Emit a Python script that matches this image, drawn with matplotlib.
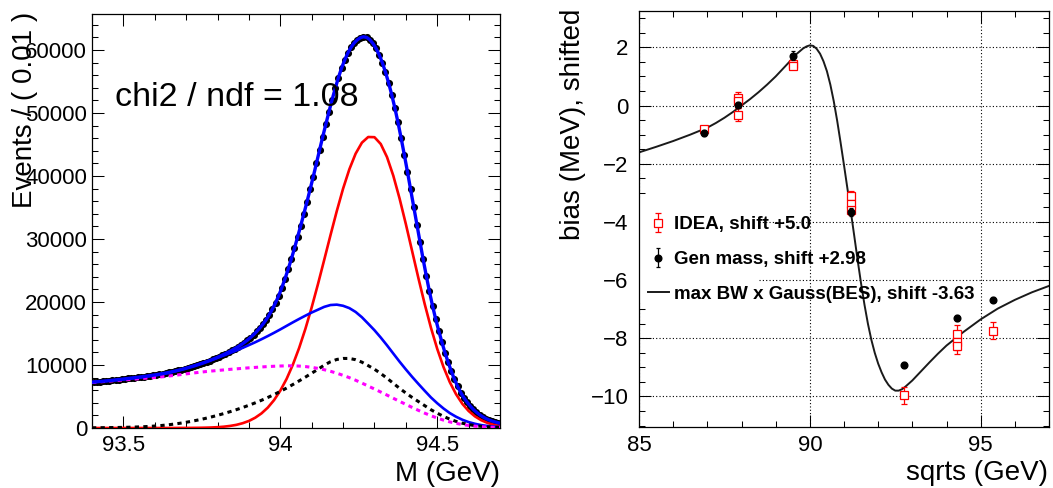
import numpy as np
import matplotlib
matplotlib.use("Agg")
import matplotlib.pyplot as plt
from matplotlib.ticker import MultipleLocator, FixedLocator, FuncFormatter
from matplotlib.patches import Rectangle

plt.rcParams['font.family'] = ['Liberation Sans', 'DejaVu Sans']

# ---------------- left panel: mass fit ----------------
bin_centers = np.round(93.405 + 0.01 * np.arange(130), 3)
events = [
    7300, 7340, 7380, 7420, 7470, 7520, 7570, 7620, 7680, 7740,
    7800, 7860, 7920, 7980, 8040, 8100, 8170, 8240, 8310, 8380,
    8460, 8540, 8630, 8720, 8820, 8930, 9040, 9160, 9280, 9410,
    9550, 9690, 9840, 10000, 10160, 10330, 10510, 10700, 10900, 11110,
    11330, 11560, 11800, 12050, 12310, 12590, 12890, 13210, 13560, 13940,
    14360, 14820, 15330, 15890, 16500, 17200, 18000, 18900, 19900, 21000,
    22300, 23700, 25200, 26800, 28500, 30300, 32100, 34000, 35900, 37900,
    39900, 42000, 44100, 46200, 48200, 50200, 52100, 53900, 55600, 57100,
    58400, 59500, 60400, 61100, 61600, 61950, 62100, 62000, 61650, 61050,
    60250, 59250, 58000, 56500, 54800, 52900, 50800, 48500, 46000, 43400,
    40700, 37900, 35100, 32300, 29500, 26800, 24200, 21700, 19400, 17300,
    15400, 13600, 11900, 10400, 9000, 7700, 6600, 5600, 4800, 4100,
    3500, 2950, 2500, 2100, 1780, 1500, 1280, 1100, 950, 820,
]

m_grid = np.round(93.40 + 0.02 * np.arange(66), 2)
core_peak = [
    0, 0, 0, 0, 0, 0, 0, 0, 0, 0,
    0, 0, 0, 0, 10, 10, 20, 30, 50, 80,
    130, 210, 330, 500, 760, 1120, 1630, 2320, 3230, 4420,
    5930, 7790, 10050, 12710, 15750, 19150, 22840, 26710, 30630, 34440,
    37990, 41070, 43550, 45290, 46190, 46160, 45080, 43000, 40050, 36430,
    32370, 28080, 23790, 19690, 15910, 12560, 9680, 7280, 5360, 3840,
    2700, 1850, 1240, 810, 510, 320,
]
tail_a = [
    30, 40, 50, 65, 80, 100, 125, 155, 195, 245,
    310, 390, 490, 610, 750, 910, 1090, 1290, 1510, 1750,
    2010, 2290, 2590, 2910, 3250, 3610, 3990, 4400, 4840, 5310,
    5810, 6340, 6900, 7480, 8080, 8700, 9320, 9980, 10520, 10880,
    11040, 11040, 10840, 10450, 9900, 9330, 8650, 7900, 7100, 6300,
    5550, 4850, 4200, 3550, 2900, 2350, 1850, 1400, 1050, 760,
    540, 380, 260, 180, 120, 80,
]
tail_b = [
    7220, 7300, 7380, 7460, 7540, 7620, 7700, 7780, 7860, 7940,
    8020, 8110, 8220, 8340, 8460, 8590, 8710, 8830, 8940, 9040,
    9130, 9220, 9310, 9390, 9470, 9550, 9620, 9690, 9750, 9800,
    9840, 9870, 9870, 9830, 9750, 9630, 9460, 9250, 9000, 8700,
    8360, 7990, 7580, 7130, 6660, 6190, 5710, 5220, 4720, 4230,
    3750, 3270, 2800, 2360, 1950, 1580, 1250, 970, 740, 550,
    400, 290, 200, 140, 100, 70,
]
tail_sum = np.add(tail_a, tail_b)

# ---------------- right panel: bias vs sqrt(s) ----------------
idea_x = [86.9, 87.9, 87.9, 87.9, 89.5, 89.5, 91.2, 91.2, 91.2, 92.75, 94.3, 94.3, 94.3, 95.35]
idea_y = [-0.82, 0.26, 0.14, -0.31, 1.42, 1.36, -3.12, -3.38, -3.58, -9.96, -7.85, -8.12, -8.25, -7.74]
idea_err = [0.12, 0.22, 0.22, 0.22, 0.12, 0.12, 0.18, 0.18, 0.18, 0.30, 0.30, 0.30, 0.30, 0.30]

gen_x = [86.9, 87.9, 89.5, 91.2, 92.75, 94.3, 95.35]
gen_y = [-0.93, 0.02, 1.72, -3.66, -8.93, -7.30, -6.67]
gen_err = [0.10, 0.10, 0.15, 0.15, 0.10, 0.10, 0.10]

bw_x = [85.0, 85.5, 86.0, 86.5, 87.0, 87.25, 87.5, 87.75, 88.0, 88.25, 88.5, 88.75,
        89.0, 89.2, 89.4, 89.6, 89.8, 89.9, 90.0, 90.1, 90.2, 90.3, 90.4, 90.5,
        90.6, 90.7, 90.8, 90.9, 91.0, 91.1, 91.2, 91.3, 91.4, 91.5, 91.6, 91.7,
        91.8, 91.9, 92.0, 92.1, 92.2, 92.3, 92.4, 92.5, 92.6, 92.7, 92.8, 93.0,
        93.25, 93.5, 93.75, 94.0, 94.5, 95.0, 95.5, 96.0, 96.5, 97.0]
bw_y = [-1.61, -1.42, -1.22, -1.00, -0.76, -0.60, -0.42, -0.22, 0.00, 0.22, 0.46, 0.72,
        1.00, 1.25, 1.50, 1.76, 1.96, 2.03, 2.07, 2.05, 1.95, 1.78, 1.52, 1.18,
        0.72, 0.15, -0.52, -1.27, -2.05, -2.85, -3.65, -4.48, -5.32, -6.12, -6.85, -7.50,
        -8.05, -8.50, -8.87, -9.17, -9.42, -9.60, -9.73, -9.80, -9.80, -9.75, -9.66, -9.45,
        -9.14, -8.83, -8.53, -8.25, -7.78, -7.35, -6.98, -6.68, -6.42, -6.20]

W, H = 1053, 488
fig = plt.figure(figsize=(W / 100, H / 100), dpi=100)
fig.patch.set_facecolor('white')

axL = fig.add_axes([92 / W, 1 - 428 / H, 408 / W, 414 / H])
axR = fig.add_axes([639 / W, 1 - 427 / H, 410 / W, 416 / H])

BLUE = '#0000ff'
RED = '#ff0000'
MAGENTA = '#ff00ff'


def root_style(ax, xpad, ypad):
    for s in ax.spines.values():
        s.set_linewidth(0.9)
        s.set_color('black')
    ax.tick_params(which='both', direction='in', top=True, right=True,
                   width=0.75, colors='black', labelsize=16)
    ax.tick_params(which='major', length=8.5)
    ax.tick_params(which='minor', length=4.3)
    ax.tick_params(axis='x', which='major', pad=xpad)
    ax.tick_params(axis='y', which='major', pad=ypad)


# left panel drawing
axL.plot(bin_centers, events, 'o', color='black', ms=4.1, zorder=3)
axL.plot(bin_centers, events, color=BLUE, lw=2.4, zorder=4)
axL.plot(m_grid, core_peak, color=RED, lw=1.9, zorder=3)
axL.plot(m_grid, tail_sum, color=BLUE, lw=1.9, zorder=3)
axL.plot(m_grid, tail_a, color='black', lw=2.2, ls=(0, (1.4, 1.4)), zorder=3)
axL.plot(m_grid, tail_b, color=MAGENTA, lw=2.2, ls=(0, (1.4, 1.4)), zorder=3)

axL.set_xlim(93.4, 94.7)
axL.set_ylim(0, 65714)
axL.xaxis.set_major_locator(FixedLocator([93.5, 94.0, 94.5]))
axL.xaxis.set_minor_locator(MultipleLocator(0.1))
axL.yaxis.set_major_locator(MultipleLocator(10000))
axL.yaxis.set_minor_locator(MultipleLocator(2000))
axL.xaxis.set_major_formatter(FuncFormatter(lambda v, p: f"{v:g}"))
axL.yaxis.set_major_formatter(FuncFormatter(lambda v, p: f"{v:.0f}"))
root_style(axL, xpad=5, ypad=3.6)

axL.text(0.056, 0.778, 'chi2 / ndf = 1.08', transform=axL.transAxes,
         fontsize=24.5, va='baseline', ha='left', zorder=5)

fig.text(25 / W, 1 - 12 / H, 'Events / ( 0.01 )', rotation=90,
         ha='center', va='top', fontsize=20)
fig.text(500 / W, 1 - 461 / H, 'M (GeV)', ha='right', va='top', fontsize=20)

# right panel drawing
axR.set_axisbelow(True)
axR.grid(True, which='major', color='black', lw=0.8, ls=(0, (1, 2)))
axR.add_patch(Rectangle((0, 0.30), 0.29, 0.25, transform=axR.transAxes,
                        facecolor='white', edgecolor='none', zorder=1))

bw_line, = axR.plot(bw_x, bw_y, color='#1a1a1a', lw=1.4, zorder=2)
idea = axR.errorbar(idea_x, idea_y, yerr=idea_err, fmt='s', color=RED,
                    mfc='white', mec=RED, ms=5.6, mew=0.9, elinewidth=0.9,
                    capsize=2.4, capthick=0.9, zorder=3)
gen = axR.errorbar(gen_x, gen_y, yerr=gen_err, fmt='o', color='black',
                   ms=4.8, elinewidth=0.9, capsize=1.6, capthick=0.9, zorder=4)

axR.set_xlim(85, 97)
axR.set_ylim(-11.05, 3.25)
axR.xaxis.set_major_locator(FixedLocator([85, 90, 95]))
axR.xaxis.set_minor_locator(MultipleLocator(1))
axR.yaxis.set_major_locator(MultipleLocator(2))
axR.yaxis.set_minor_locator(MultipleLocator(0.5))
axR.xaxis.set_major_formatter(FuncFormatter(lambda v, p: f"{v:g}"))
axR.yaxis.set_major_formatter(
    FuncFormatter(lambda v, p: f"{v:g}".replace('-', '\u2212')))
root_style(axR, xpad=5.8, ypad=7.5)

axR.legend([idea, gen, bw_line],
           ['IDEA, shift +5.0', 'Gen mass, shift +2.98',
            'max BW x Gauss(BES), shift -3.63'],
           loc='upper left', bbox_to_anchor=(648 / W, 1 - 216 / H),
           bbox_transform=fig.transFigure, frameon=False, borderpad=0,
           borderaxespad=0, handlelength=1.1, handletextpad=0.3,
           labelspacing=0.95, prop={'size': 13.5, 'weight': 'bold'})

fig.text(573.5 / W, 1 - 9 / H, 'bias (MeV), shifted', rotation=90,
         ha='center', va='top', fontsize=20)
fig.text(1048 / W, 1 - 460 / H, 'sqrts (GeV)', ha='right', va='top', fontsize=20)

fig.savefig('out.png', dpi=100, facecolor='white')
